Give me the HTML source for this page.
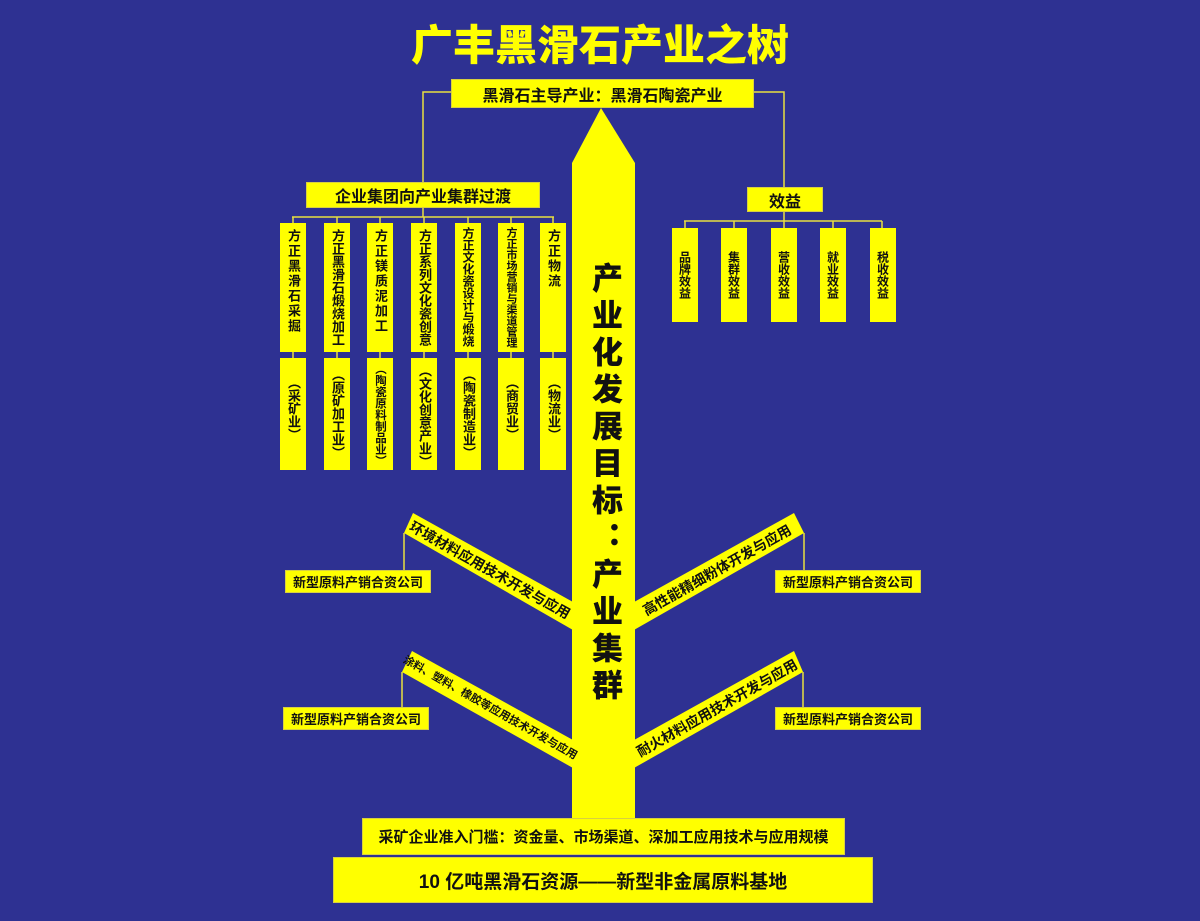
<!DOCTYPE html>
<html><head><meta charset="utf-8"><style>
body{margin:0;width:1200px;height:921px;background:#2e3192;position:relative;overflow:hidden;font-family:"Liberation Sans","Noto Sans CJK SC",sans-serif;font-weight:bold;color:#111}
.b{position:absolute;background:#ffff00;box-sizing:border-box;border:1px solid #d8d040;display:flex;align-items:center;justify-content:center;white-space:nowrap}
.v{position:absolute;background:#ffff00;writing-mode:vertical-rl;text-orientation:upright;font-size:13px;line-height:26px;text-align:left;padding-top:6px;box-sizing:border-box;overflow:hidden;white-space:nowrap}
.r{position:absolute;background:#ffff00;font-size:12px;writing-mode:vertical-rl;text-orientation:upright;display:flex;align-items:center;justify-content:center;box-sizing:border-box}
.t{position:absolute;white-space:nowrap;font-size:14px;line-height:16px;width:200px;text-align:center;transform-origin:center center}
svg{position:absolute;left:0;top:0}
</style></head><body>
<svg width="1200" height="921">
<g stroke="#e8e040" stroke-width="1.5" fill="none">
<polyline points="451,92 423,92 423,183"/>
<polyline points="754,92 784,92 784,187"/>
<line x1="423" y1="208" x2="423" y2="217"/>
<line x1="292" y1="217" x2="554" y2="217"/>
<line x1="293" y1="217" x2="293" y2="223"/><line x1="337" y1="217" x2="337" y2="223"/><line x1="380" y1="217" x2="380" y2="223"/><line x1="424" y1="217" x2="424" y2="223"/><line x1="468" y1="217" x2="468" y2="223"/><line x1="511" y1="217" x2="511" y2="223"/><line x1="553" y1="217" x2="553" y2="223"/>
<line x1="293" y1="352" x2="293" y2="358"/><line x1="337" y1="352" x2="337" y2="358"/><line x1="380" y1="352" x2="380" y2="358"/><line x1="424" y1="352" x2="424" y2="358"/><line x1="468" y1="352" x2="468" y2="358"/><line x1="511" y1="352" x2="511" y2="358"/><line x1="553" y1="352" x2="553" y2="358"/>
<line x1="784" y1="212" x2="784" y2="221"/>
<line x1="684" y1="221" x2="882" y2="221"/>
<line x1="685" y1="221" x2="685" y2="228"/><line x1="734" y1="221" x2="734" y2="228"/><line x1="784" y1="221" x2="784" y2="228"/><line x1="833" y1="221" x2="833" y2="228"/><line x1="882" y1="221" x2="882" y2="228"/>
<line x1="404" y1="533" x2="404" y2="570"/>
<line x1="804" y1="533" x2="804" y2="570"/>
<line x1="402" y1="672" x2="402" y2="707"/>
<line x1="803" y1="672" x2="803" y2="707"/>
</g>
<g fill="#ffff00">
<polygon points="601,108 635,163 635,830 572,830 572,163"/>
<polygon points="413,513 573,602 573,630 404,533"/>
<polygon points="794,513 634,602 634,630 804,533"/>
<polygon points="412,651 573,740 573,768 402,672"/>
<polygon points="794,651 634,740 634,768 803,672"/>
</g>
</svg>
<div style="position:absolute;left:300px;top:18px;width:600px;text-align:center;color:#ffff00;font-size:42px;line-height:50px;font-family:'Noto Sans CJK SC',sans-serif;font-weight:900">广丰黑滑石产业之树</div>
<div class="b" style="left:451px;top:79px;width:303px;height:29px;font-size:16px">黑滑石主导产业：黑滑石陶瓷产业</div>
<div class="b" style="left:306px;top:182px;width:234px;height:26px;font-size:16px">企业集团向产业集群过渡</div>
<div class="b" style="left:747px;top:187px;width:76px;height:25px;font-size:16px">效益</div>

<div class="v" style="left:280px;top:223px;width:26px;height:129px;letter-spacing:2px">方正黑滑石采掘</div>
<div class="v" style="left:324px;top:223px;width:26px;height:129px">方正黑滑石煅烧加工</div>
<div class="v" style="left:367px;top:223px;width:26px;height:129px;letter-spacing:2px">方正镁质泥加工</div>
<div class="v" style="left:411px;top:223px;width:26px;height:129px">方正系列文化瓷创意</div>
<div class="v" style="left:455px;top:223px;width:26px;height:129px;font-size:12px;padding-top:4px">方正文化瓷设计与煅烧</div>
<div class="v" style="left:498px;top:223px;width:26px;height:129px;font-size:11px;padding-top:4px">方正市场营销与渠道管理</div>
<div class="v" style="left:540px;top:223px;width:26px;height:129px;letter-spacing:2px">方正物流</div>

<div class="v" style="left:280px;top:358px;width:26px;height:112px;padding-top:18px">（采矿业）</div>
<div class="v" style="left:324px;top:358px;width:26px;height:112px;padding-top:10px">（原矿加工业）</div>
<div class="v" style="left:367px;top:358px;width:26px;height:112px;padding-top:5px;font-size:11.5px">（陶瓷原料制品业）</div>
<div class="v" style="left:411px;top:358px;width:26px;height:112px;padding-top:6px">（文化创意产业）</div>
<div class="v" style="left:455px;top:358px;width:26px;height:112px;padding-top:10px">（陶瓷制造业）</div>
<div class="v" style="left:498px;top:358px;width:26px;height:112px;padding-top:18px">（商贸业）</div>
<div class="v" style="left:540px;top:358px;width:26px;height:112px;padding-top:18px">（物流业）</div>

<div class="r" style="left:672px;top:228px;width:26px;height:94px">品牌效益</div>
<div class="r" style="left:721px;top:228px;width:26px;height:94px">集群效益</div>
<div class="r" style="left:771px;top:228px;width:26px;height:94px">营收效益</div>
<div class="r" style="left:820px;top:228px;width:26px;height:94px">就业效益</div>
<div class="r" style="left:870px;top:228px;width:26px;height:94px">税收效益</div>

<div style="position:absolute;left:584px;top:262px;width:40px;writing-mode:vertical-rl;text-orientation:upright;font-size:31px;line-height:40px;letter-spacing:6px;font-weight:900">产业化发展目标：产业集群</div>

<div class="t" style="left:390px;top:562px;transform:rotate(29.5deg)">环境材料应用技术开发与应用</div>
<div class="t" style="left:617px;top:562px;transform:rotate(-29.5deg)">高性能精细粉体开发与应用</div>
<div class="t" style="left:390px;top:700px;font-size:11px;transform:rotate(29.5deg)">涂料、塑料、橡胶等应用技术开发与应用</div>
<div class="t" style="left:617px;top:700px;transform:rotate(-29.5deg)">耐火材料应用技术开发与应用</div>

<div class="b" style="left:285px;top:570px;width:146px;height:23px;font-size:13px">新型原料产销合资公司</div>
<div class="b" style="left:775px;top:570px;width:146px;height:23px;font-size:13px">新型原料产销合资公司</div>
<div class="b" style="left:283px;top:707px;width:146px;height:23px;font-size:13px">新型原料产销合资公司</div>
<div class="b" style="left:775px;top:707px;width:146px;height:23px;font-size:13px">新型原料产销合资公司</div>

<div class="b" style="left:362px;top:818px;width:483px;height:37px;font-size:15px">采矿企业准入门槛：资金量、市场渠道、深加工应用技术与应用规模</div>
<div class="b" style="left:333px;top:857px;width:540px;height:46px;font-size:19px">10 亿吨黑滑石资源——新型非金属原料基地</div>
</body></html>
